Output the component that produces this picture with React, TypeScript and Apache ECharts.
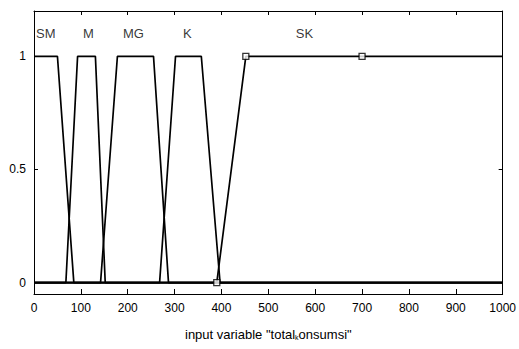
import React, { useEffect, useRef } from "react";
import * as echarts from "echarts";

const mfNames = ["SM", "M", "MG", "K", "SK"];
const mfSM = [[0, 1], [50, 1], [85, 0], [1000, 0]];
const mfM = [[0, 0], [68, 0], [93, 1], [131, 1], [152, 0], [1000, 0]];
const mfMG = [[0, 0], [142, 0], [178, 1], [255, 1], [287, 0], [1000, 0]];
const mfK = [[0, 0], [268, 0], [302, 1], [357, 1], [397, 0], [1000, 0]];
const mfSK = [[0, 0], [390, 0], [452, 1], [1000, 1]];
const handlePoints = [[390, 0], [452, 1], [700, 1]];
const labelX = [25, 116, 212, 327, 577];
const labelY = 1.1;
const yTickValues = [0, 0.5, 1];

const FONT = "'Liberation Sans Narrow', 'Liberation Sans', Arial, sans-serif";

export default function App() {
  const ref = useRef<HTMLDivElement>(null);
  useEffect(() => {
    if (!ref.current) return;
    const chart = echarts.init(ref.current, null, { renderer: "svg" });
    const mfs = [mfSM, mfM, mfMG, mfK, mfSK];
    const lineSeries = mfs.map((d, i) => ({
      type: "line",
      name: mfNames[i],
      data: d,
      showSymbol: false,
      symbol: "none",
      lineStyle: { color: "#000", width: 1.7 },
      z: 3,
    }));
    const axisLineStyle = { lineStyle: { color: "#000", width: 1 } };
    chart.setOption({
      animation: false,
      backgroundColor: "#fff",
      grid: { left: 34, right: 15, top: 11, bottom: 55, containLabel: false },
      xAxis: [
        {
          type: "value",
          min: 0,
          max: 1000,
          interval: 100,
          position: "bottom",
          axisLine: { show: true, onZero: false, ...axisLineStyle },
          axisTick: { show: true, inside: true, length: 5, lineStyle: { color: "#000" } },
          axisLabel: {
            color: "#000",
            fontSize: 12,
            fontFamily: FONT,
            margin: 8,
            formatter: (v: number) => String(v),
          },
          splitLine: { show: false },
          name: 'input variable "total{sub|k}onsumsi"',
          nameLocation: "middle",
          nameGap: 34,
          nameTextStyle: {
            color: "#000",
            fontSize: 13,
            fontFamily: FONT,
            rich: {
              sub: { fontSize: 7, color: "#000", fontFamily: FONT, padding: [6, 0, 0, 0] },
            },
          },
        },
        {
          type: "value",
          min: 0,
          max: 1000,
          interval: 100,
          position: "top",
          axisLine: { show: true, onZero: false, ...axisLineStyle },
          axisTick: { show: true, inside: true, length: 4, lineStyle: { color: "#000" } },
          axisLabel: { show: false },
          splitLine: { show: false },
        },
      ],
      yAxis: [
        {
          type: "value",
          min: -0.05,
          max: 1.2,
          position: "left",
          axisLine: { show: true, onZero: false, ...axisLineStyle },
          axisTick: {
            show: true,
            inside: true,
            length: 4,
            customValues: yTickValues,
            lineStyle: { color: "#000" },
          },
          axisLabel: {
            color: "#000",
            fontSize: 12,
            fontFamily: FONT,
            margin: 8,
            customValues: yTickValues,
          },
          splitLine: { show: false },
        },
        {
          type: "value",
          min: -0.05,
          max: 1.2,
          position: "right",
          axisLine: { show: true, onZero: false, ...axisLineStyle },
          axisTick: {
            show: true,
            inside: true,
            length: 4,
            customValues: yTickValues,
            lineStyle: { color: "#000" },
          },
          axisLabel: { show: false },
          splitLine: { show: false },
        },
      ],
      series: [
        ...lineSeries,
        {
          type: "scatter",
          data: handlePoints,
          symbol: "rect",
          symbolSize: 6,
          itemStyle: { color: "#fff", borderColor: "#000", borderWidth: 1.3 },
          z: 5,
        },
        {
          type: "scatter",
          data: labelX.map((x, i) => ({ value: [x, labelY], name: mfNames[i] })),
          symbolSize: 0,
          label: {
            show: true,
            position: "inside",
            formatter: (p: any) => p.name,
            color: "#000",
            fontSize: 13,
            fontFamily: FONT,
          },
          z: 6,
        },
      ],
    });
    return () => chart.dispose();
  }, []);
  return (
    <div
      ref={ref}
      style={{ position: "fixed", left: 0, top: 0, width: 519, height: 349, background: "#fff" }}
    />
  );
}
